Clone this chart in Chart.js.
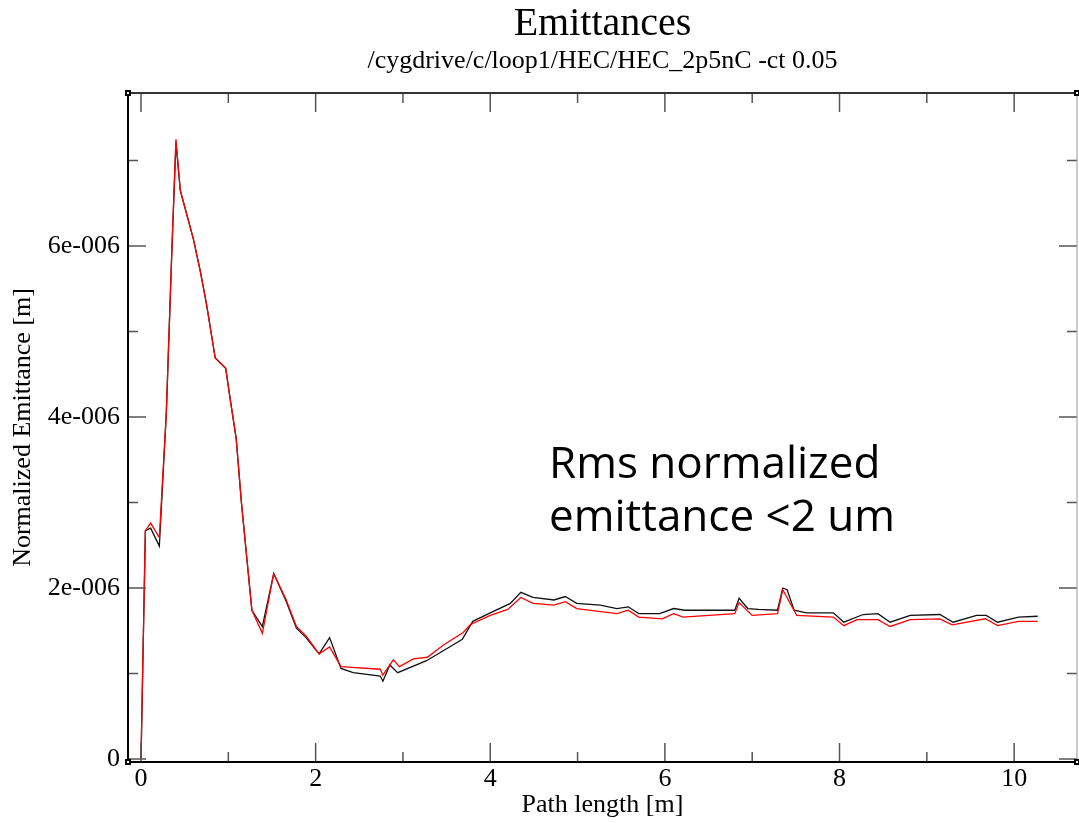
<!DOCTYPE html>
<html>
<head>
<meta charset="utf-8">
<script src="https://cdn.jsdelivr.net/npm/chart.js@4/dist/chart.umd.min.js"></script>
<style>
  html, body { margin: 0; padding: 0; background: #fff; }
  #wrap { width: 1079px; height: 823px; }
</style>
</head>
<body>
<div id="wrap"><canvas id="c"></canvas></div>
<script>
// path length [m]
const blackX = [0, 0.05, 0.11, 0.21, 0.29, 0.35, 0.40, 0.45, 0.60, 0.68, 0.75, 0.85, 0.97, 1.03, 1.09, 1.15, 1.27, 1.39, 1.52, 1.66, 1.78, 1.89, 2.04, 2.16, 2.29, 2.43, 2.74, 2.77, 2.85, 2.94, 3.27, 3.50, 3.68, 3.80, 4.00, 4.23, 4.35, 4.49, 4.73, 4.86, 4.99, 5.26, 5.45, 5.58, 5.70, 5.94, 6.10, 6.23, 6.80, 6.85, 6.95, 7.07, 7.29, 7.35, 7.40, 7.48, 7.62, 7.93, 8.05, 8.27, 8.44, 8.58, 8.81, 9.15, 9.30, 9.57, 9.68, 9.81, 10.05, 10.27];
// normalized emittance [m]
const blackY = [0, 2.67e-6, 2.70e-6, 2.49e-6, 4.05e-6, 5.85e-6, 7.21e-6, 6.65e-6, 6.08e-6, 5.70e-6, 5.32e-6, 4.69e-6, 4.57e-6, 4.15e-6, 3.75e-6, 3.00e-6, 1.74e-6, 1.55e-6, 2.17e-6, 1.85e-6, 1.53e-6, 1.42e-6, 1.23e-6, 1.42e-6, 1.06e-6, 1.01e-6, 0.97e-6, 0.91e-6, 1.10e-6, 1.01e-6, 1.15e-6, 1.29e-6, 1.40e-6, 1.61e-6, 1.71e-6, 1.82e-6, 1.95e-6, 1.89e-6, 1.86e-6, 1.90e-6, 1.82e-6, 1.80e-6, 1.76e-6, 1.78e-6, 1.70e-6, 1.70e-6, 1.76e-6, 1.74e-6, 1.74e-6, 1.88e-6, 1.76e-6, 1.75e-6, 1.74e-6, 2.00e-6, 1.98e-6, 1.74e-6, 1.71e-6, 1.71e-6, 1.60e-6, 1.69e-6, 1.70e-6, 1.60e-6, 1.68e-6, 1.69e-6, 1.60e-6, 1.68e-6, 1.68e-6, 1.60e-6, 1.66e-6, 1.67e-6];

const redX = [0, 0.05, 0.11, 0.21, 0.29, 0.35, 0.40, 0.45, 0.60, 0.68, 0.75, 0.85, 0.97, 1.03, 1.09, 1.15, 1.27, 1.39, 1.52, 1.66, 1.78, 1.89, 2.04, 2.16, 2.29, 2.74, 2.77, 2.89, 2.96, 3.12, 3.28, 3.46, 3.69, 3.77, 4.00, 4.20, 4.35, 4.49, 4.73, 4.86, 4.99, 5.45, 5.58, 5.70, 5.97, 6.10, 6.21, 6.80, 6.85, 7.00, 7.29, 7.35, 7.51, 7.93, 8.05, 8.20, 8.44, 8.58, 8.81, 9.15, 9.29, 9.67, 9.81, 10.05, 10.27];
const redY = [0, 2.67e-6, 2.76e-6, 2.59e-6, 4.05e-6, 5.85e-6, 7.25e-6, 6.65e-6, 6.08e-6, 5.70e-6, 5.32e-6, 4.69e-6, 4.57e-6, 4.15e-6, 3.75e-6, 3.00e-6, 1.74e-6, 1.47e-6, 2.17e-6, 1.87e-6, 1.55e-6, 1.44e-6, 1.23e-6, 1.31e-6, 1.08e-6, 1.05e-6, 0.98e-6, 1.16e-6, 1.08e-6, 1.17e-6, 1.19e-6, 1.33e-6, 1.48e-6, 1.57e-6, 1.68e-6, 1.75e-6, 1.89e-6, 1.82e-6, 1.80e-6, 1.84e-6, 1.76e-6, 1.70e-6, 1.74e-6, 1.66e-6, 1.64e-6, 1.70e-6, 1.66e-6, 1.70e-6, 1.83e-6, 1.68e-6, 1.70e-6, 1.98e-6, 1.68e-6, 1.66e-6, 1.56e-6, 1.63e-6, 1.63e-6, 1.55e-6, 1.63e-6, 1.64e-6, 1.57e-6, 1.64e-6, 1.56e-6, 1.61e-6, 1.61e-6];

const xMajorTicks = [0, 2, 4, 6, 8, 10];
const xMinorTicks = [1, 3, 5, 7, 9];
const yMajorTicks = [0, 2e-6, 4e-6, 6e-6];
const yMinorTicks = [1e-6, 3e-6, 5e-6, 7e-6];
const yTickLabels = ["0", "2e-006", "4e-006", "6e-006"];

const serif = "'Liberation Serif', 'Times New Roman', serif";
const toPoints = (xs, ys) => xs.map((x, i) => ({ x: x, y: ys[i] }));

// xmgrace style box with inward ticks on all four sides
const framePlugin = {
  id: "frame",
  afterDatasetsDraw: (chart) => {
    const ctx = chart.ctx;
    const a = chart.chartArea;
    const xs = chart.scales.x, ys = chart.scales.y;
    ctx.save();
    ctx.strokeStyle = "#555";
    ctx.lineWidth = 1.5;
    const tick = (v, len, isX) => {
      ctx.beginPath();
      if (isX) {
        const p = xs.getPixelForValue(v);
        ctx.moveTo(p, a.bottom); ctx.lineTo(p, a.bottom - len);
        ctx.moveTo(p, a.top); ctx.lineTo(p, a.top + len);
      } else {
        const p = ys.getPixelForValue(v);
        ctx.moveTo(a.left, p); ctx.lineTo(a.left + len, p);
        ctx.moveTo(a.right, p); ctx.lineTo(a.right - len, p);
      }
      ctx.stroke();
    };
    xMajorTicks.forEach((v) => tick(v, 19, true));
    xMinorTicks.forEach((v) => tick(v, 10, true));
    yMajorTicks.forEach((v) => tick(v, 18, false));
    yMinorTicks.forEach((v) => tick(v, 10, false));

    ctx.strokeStyle = "#999";
    ctx.lineWidth = 1;
    ctx.beginPath(); ctx.moveTo(a.right, a.top); ctx.lineTo(a.right, a.bottom); ctx.stroke();
    ctx.strokeStyle = "#333";
    ctx.lineWidth = 2;
    ctx.beginPath(); ctx.moveTo(a.left, a.top); ctx.lineTo(a.right, a.top); ctx.stroke();
    ctx.strokeStyle = "#000";
    ctx.beginPath();
    ctx.moveTo(a.left, a.top); ctx.lineTo(a.left, a.bottom); ctx.lineTo(a.right, a.bottom);
    ctx.stroke();
    // corner handles
    ctx.fillStyle = "#000";
    [[a.left, a.top], [a.left, a.bottom], [a.right, a.top], [a.right, a.bottom]].forEach(([x, y]) => {
      ctx.fillRect(x - 3, y - 3, 6, 6);
      ctx.fillStyle = "#fff";
      ctx.fillRect(x - 1, y - 1, 2, 2);
      ctx.fillStyle = "#000";
    });
    ctx.restore();
  },
};

const notePlugin = {
  id: "note",
  afterDraw: (chart) => {
    const ctx = chart.ctx;
    ctx.save();
    ctx.fillStyle = "#000";
    ctx.font = "44px 'Open Sans', 'Noto Sans', sans-serif";
    ctx.textAlign = "left";
    ctx.textBaseline = "alphabetic";
    ctx.fillText("Rms normalized", 549, 478);
    ctx.fillText("emittance <2 um", 549, 531);
    ctx.restore();
  },
};

new Chart(document.getElementById("c"), {
  type: "line",
  data: {
    datasets: [
      {
        label: "red",
        data: toPoints(redX, redY),
        borderColor: "rgb(255, 0, 0)",
        borderWidth: 1.3,
        pointRadius: 0,
        tension: 0,
      },
      {
        label: "black",
        data: toPoints(blackX, blackY),
        borderColor: "#111",
        borderWidth: 1.3,
        pointRadius: 0,
        tension: 0,
      },
    ],
  },
  options: {
    responsive: true,
    maintainAspectRatio: false,
    animation: false,
    layout: { padding: { top: 0, right: 2, bottom: 0, left: 0 } },
    plugins: {
      legend: { display: false },
      tooltip: { enabled: false },
      title: {
        display: true,
        text: "Emittances",
        color: "#000",
        fullSize: false,
        font: { family: serif, size: 40, weight: "normal", lineHeight: 1.0 },
        padding: { top: 4, bottom: 0 },
      },
      subtitle: {
        display: true,
        text: "/cygdrive/c/loop1/HEC/HEC_2p5nC -ct 0.05",
        color: "#000",
        fullSize: false,
        font: { family: serif, size: 26, weight: "normal", lineHeight: 1.2 },
        padding: { top: 2, bottom: 15.8 },
      },
    },
    scales: {
      x: {
        type: "linear",
        min: -0.149,
        max: 10.72,
        afterBuildTicks: (scale) => { scale.ticks = xMajorTicks.map((v) => ({ value: v })); },
        afterFit: (scale) => { scale.height = 61; },
        grid: { display: false, drawTicks: false },
        border: { display: false },
        ticks: { color: "#000", font: { family: serif, size: 26 }, padding: 2, maxRotation: 0 },
        title: {
          display: true,
          text: "Path length [m]",
          color: "#000",
          font: { family: serif, size: 26 },
          padding: { top: 0, bottom: 2 },
        },
      },
      y: {
        type: "linear",
        min: -0.035e-6,
        max: 7.79e-6,
        afterBuildTicks: (scale) => { scale.ticks = yMajorTicks.map((v) => ({ value: v })); },
        afterFit: (scale) => { scale.width = 128; },
        grid: { display: false, drawTicks: false },
        border: { display: false },
        ticks: {
          color: "#000",
          font: { family: serif, size: 26 },
          padding: 8,
          callback: (v) => yTickLabels[yMajorTicks.findIndex((t) => Math.abs(t - v) < 1e-9)] ?? "",
        },
        title: {
          display: true,
          text: "Normalized Emittance [m]",
          color: "#000",
          font: { family: serif, size: 26 },
          padding: { top: 8, bottom: 0 },
        },
      },
    },
  },
  plugins: [framePlugin, notePlugin],
});
</script>
</body>
</html>
